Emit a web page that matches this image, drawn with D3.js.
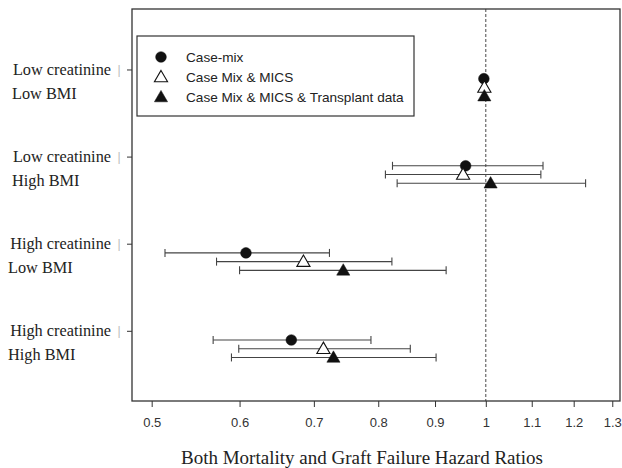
<!DOCTYPE html>
<html>
<head>
<meta charset="utf-8">
<script src="https://d3js.org/d3.v7.min.js"></script>
<style>
  body { margin: 0; background: #fff; }
  .tick text { font-family: "Liberation Sans", Arial, sans-serif; font-size: 13px; fill: #333; }
  .grp { font-family: "Liberation Serif", serif; font-size: 16.3px; fill: #222; }
  .leg { font-family: "Liberation Sans", Arial, sans-serif; font-size: 13.6px; fill: #222; }
</style>
</head>
<body>
<svg width="622" height="468"></svg>
<script>
// groups, top to bottom
const groups = [
  ["Low creatinine", "Low BMI"],
  ["Low creatinine", "High BMI"],
  ["High creatinine", "Low BMI"],
  ["High creatinine", "High BMI"]
];
const models = ["Case-mix", "Case Mix & MICS", "Case Mix & MICS & Transplant data"];

// hazard ratio estimates [group][model]
const hr = [
  [0.996, 0.997, 0.997],
  [0.959, 0.954, 1.010],
  [0.608, 0.685, 0.744],
  [0.668, 0.714, 0.729]
];
const lower = [
  [null, null, null],
  [0.824, 0.812, 0.832],
  [0.514, 0.572, 0.600],
  [0.568, 0.599, 0.590]
];
const upper = [
  [null, null, null],
  [1.126, 1.121, 1.230],
  [0.723, 0.823, 0.921],
  [0.788, 0.855, 0.902]
];
const xTicks = [0.5, 0.6, 0.7, 0.8, 0.9, 1, 1.1, 1.2, 1.3];

const svg = d3.select("svg");
const mL = 132, mR = 620, mT = 9, mB = 401;

const x = d3.scaleLog().domain([0.48, 1.321]).range([mL, mR]);
const y = d3.scaleLinear().domain([-0.7, 3.8]).range([mT, mB]);

// rows: one per group and model
const rows = [];
groups.forEach((g, i) => {
  models.forEach((m, j) => {
    rows.push({ g: i, m: j, pos: i + 0.1 * (j + 1), hr: hr[i][j], lo: lower[i][j], hi: upper[i][j] });
  });
});

// reference line at 1
svg.append("line")
  .attr("x1", x(1)).attr("x2", x(1))
  .attr("y1", mT).attr("y2", mB)
  .attr("stroke", "#333").attr("stroke-width", 0.9)
  .attr("stroke-dasharray", "3,2");

// error bars
const ci = rows.filter(d => d.lo != null);
const barCol = "#444";
svg.selectAll(".ci").data(ci).enter().append("line")
  .attr("x1", d => x(d.lo)).attr("x2", d => x(d.hi))
  .attr("y1", d => y(d.pos)).attr("y2", d => y(d.pos))
  .attr("stroke", barCol).attr("stroke-width", 1.1);
["lo", "hi"].forEach(k => {
  svg.selectAll(".cap-" + k).data(ci).enter().append("line")
    .attr("x1", d => x(d[k])).attr("x2", d => x(d[k]))
    .attr("y1", d => y(d.pos) - 4).attr("y2", d => y(d.pos) + 4)
    .attr("stroke", barCol).attr("stroke-width", 1.1);
});

// markers
const sym = [d3.symbolCircle, d3.symbolTriangle, d3.symbolTriangle];
const size = [90, 75, 75];
const fill = ["#111", "#fff", "#111"];
svg.selectAll(".pt").data(rows).enter().append("path")
  .attr("transform", d => `translate(${x(d.hr)},${y(d.pos) + (d.m ? 1 : 0)})`)
  .attr("d", d => d3.symbol(sym[d.m], size[d.m])())
  .attr("fill", d => fill[d.m])
  .attr("stroke", "#111").attr("stroke-width", d => d.m === 1 ? 1.1 : 0.5);

// frame
svg.append("rect")
  .attr("x", mL).attr("y", mT)
  .attr("width", mR - mL).attr("height", mB - mT)
  .attr("fill", "none").attr("stroke", "#333").attr("stroke-width", 1.3);

// x axis
const xAxis = svg.append("g")
  .attr("transform", `translate(0,${mB})`)
  .call(d3.axisBottom(x).tickValues(xTicks).tickFormat(d3.format("")).tickSize(6).tickPadding(11));
xAxis.select(".domain").remove();
xAxis.selectAll(".tick line").attr("stroke", "#333");

svg.append("text")
  .attr("x", 362).attr("y", 464)
  .attr("text-anchor", "middle")
  .attr("class", "grp")
  .style("font-size", "19px")
  .text("Both Mortality and Graft Failure Hazard Ratios");

// y ticks and group labels
const yg = svg.append("g");
groups.forEach((g, i) => {
  const yy = y(i);
  yg.append("line").attr("x1", mL - 5).attr("x2", mL)
    .attr("y1", yy).attr("y2", yy).attr("stroke", "#333");
  yg.append("text").attr("class", "grp").attr("x", 111).attr("y", yy + 5)
    .attr("text-anchor", "end").text(g[0]);
  yg.append("text").attr("x", 119).attr("y", yy + 4)
    .attr("text-anchor", "middle")
    .style("font-family", "Liberation Sans, sans-serif").style("font-size", "12px")
    .attr("fill", "#bbb").text("|");
  yg.append("text").attr("class", "grp").attr("x", 111).attr("y", yy + 29)
    .attr("text-anchor", "start")
    .attr("dx", i < 2 ? -99 : -103)
    .text(g[1]);
});

// legend
const lg = svg.append("g");
lg.append("rect").attr("x", 137).attr("y", 36).attr("width", 277).attr("height", 80)
  .attr("fill", "#fff").attr("stroke", "#333").attr("stroke-width", 1.2);
models.forEach((m, j) => {
  const ly = 57 + j * 20;
  lg.append("path")
    .attr("transform", `translate(161,${ly + (j ? 1 : 0)})`)
    .attr("d", d3.symbol(sym[j], size[j])())
    .attr("fill", fill[j]).attr("stroke", "#111").attr("stroke-width", j === 1 ? 1.1 : 0.5);
  lg.append("text").attr("class", "leg").attr("x", 186).attr("y", ly + 5).text(m);
});
</script>
</body>
</html>
